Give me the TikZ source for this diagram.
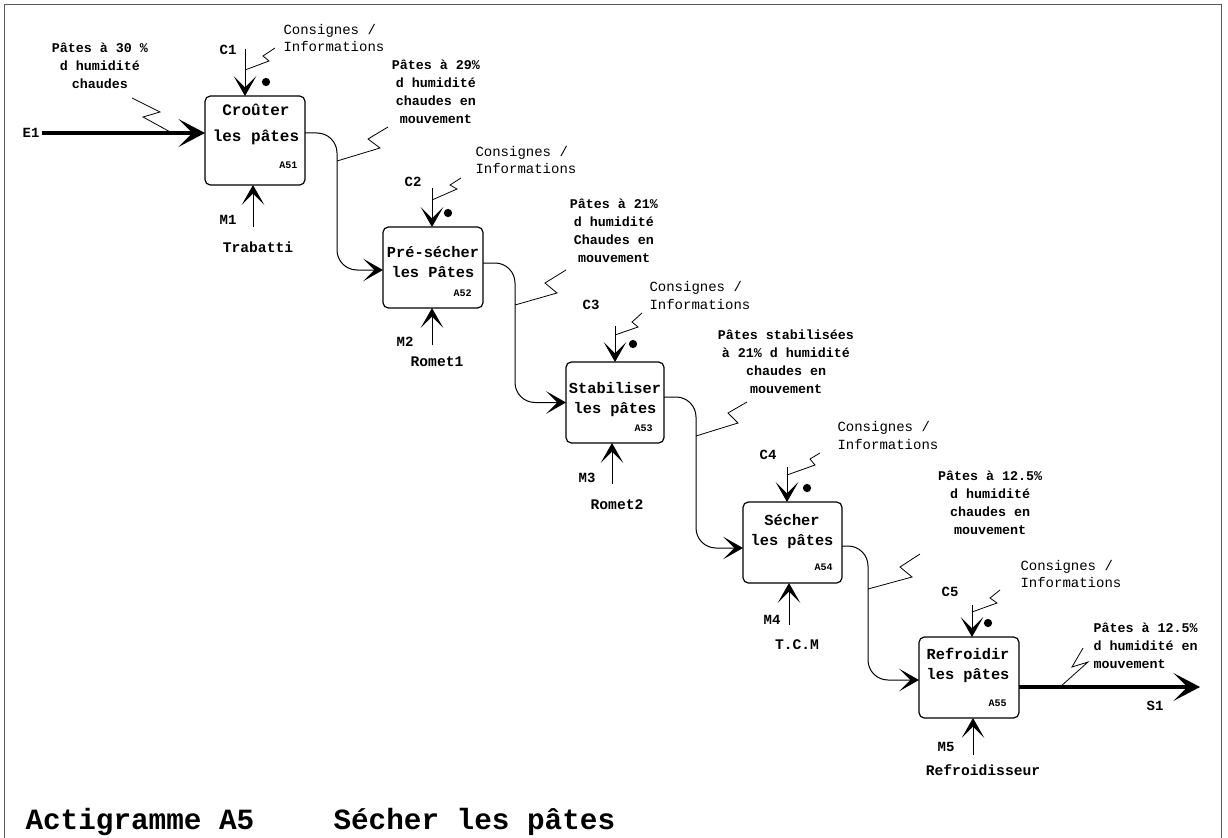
\documentclass[tikz,border=0pt]{standalone}
\usepackage{fontspec}
\setmainfont{Liberation Mono}
\usetikzlibrary{arrows.meta,calc}
\begin{document}
\begin{tikzpicture}[x=0.75pt,y=-0.75pt,
  line width=0.75pt,
  >={Stealth[length=15pt,width=17pt,inset=8.5pt]},
  thickarr/.style={line width=2.5pt,-{Stealth[length=20pt,width=21pt,inset=10.5pt]}},
  act/.style={draw,line width=0.9pt,rounded corners=4pt,inner sep=0pt,outer sep=0pt},
  acttxt/.style={align=center,inner sep=0pt,font=\fontsize{11.5}{14.5}\selectfont\bfseries},
  ref/.style={inner sep=0pt,anchor=east,font=\fontsize{7.5}{9}\selectfont\bfseries},
  lbl/.style={inner sep=0pt,font=\fontsize{10.5}{13}\selectfont\bfseries},
  cons/.style={inner sep=0pt,anchor=west,align=left,font=\fontsize{10.5}{13}\selectfont},
  flbl/.style={inner sep=0pt,align=center,font=\fontsize{10}{13.5}\selectfont\bfseries},
  mech/.style={inner sep=0pt,font=\fontsize{11}{13}\selectfont\bfseries},
  ttl/.style={inner sep=0pt,anchor=west,font=\fontsize{22}{26}\selectfont\bfseries},
  sq/.style={line width=0.6pt},
  flow/.style={->,rounded corners=15pt}
]
\useasboundingbox (0,0) rectangle (1228,838);
% frame
\draw[black!65,line width=1pt] (4.5,838) -- (4.5,4.5) -- (1221.5,4.5) -- (1221.5,838);

% activity boxes
\node[act,minimum width=75pt,minimum height=66.75pt] (A51) at (255,140.5) {};
\node[act,minimum width=75pt,minimum height=60.75pt] (A52) at (433,267.5) {};
\node[act,minimum width=73.5pt,minimum height=60.75pt] (A53) at (615,402.5) {};
\node[act,minimum width=74.25pt,minimum height=60.75pt] (A54) at (792.5,542.5) {};
\node[act,minimum width=75pt,minimum height=60.75pt] (A55) at (969,677.5) {};

\node[acttxt,font=\fontsize{12}{19}\selectfont\bfseries] (t51) at (256,124.5) {Croûter\\les pâtes};
\node[acttxt] (t52) at (433,262) {Pré-sécher\\les Pâtes};
\node[acttxt] (t53) at (615,399.5) {Stabiliser\\les pâtes};
\node[acttxt] (t54) at (792,531.5) {Sécher\\les pâtes};
\node[acttxt] (t55) at (968,665.5) {Refroidir\\les pâtes};

\node[ref] (r51) at (298,165) {A51};
\node[ref] (r52) at (472,293) {A52};
\node[ref] (r53) at (653,428) {A53};
\node[ref] (r54) at (833,567) {A54};
\node[ref] (r55) at (1007,703) {A55};

% input E1
\coordinate (e1) at (42,133);
\draw[thickarr] (e1) -- (e1 -| A51.west);
\node[lbl,anchor=east] (le1) at (40,133) {E1};
\node[flbl] (in0) at (100,66) {Pâtes à 30 \%\\d humidité\\chaudes};
\draw[sq] (132,98) -- (160,112) -- (143,117) -- (172,133);

% controls
\coordinate (c1) at (245,49);
\coordinate (c2) at (432,188);
\coordinate (c3) at (615,326);
\coordinate (c4) at (787,467);
\coordinate (c5) at (972,605);
\draw[->] (c1) -- (c1 |- A51.north);
\draw[->] (c2) -- (c2 |- A52.north);
\draw[->] (c3) -- (c3 |- A53.north);
\draw[->] (c4) -- (c4 |- A54.north);
\draw[->] (c5) -- (c5 |- A55.north);
\node[lbl] (lc1) at (228,50) {C1};
\node[lbl] (lc2) at (413,182) {C2};
\node[lbl] (lc3) at (591,305) {C3};
\node[lbl] (lc4) at (768,455) {C4};
\node[lbl] (lc5) at (950,592) {C5};
\fill (266,82) circle[radius=3.1pt];
\fill (448,213) circle[radius=3.1pt];
\fill (633,344) circle[radius=3.1pt];
\fill (807,488) circle[radius=3.1pt];
\fill (988,623) circle[radius=3.1pt];
\draw[sq] (245,70) -- (269,61) -- (263,56) -- (275,48);
\draw[sq] (432,200) -- (457,189) -- (450,185) -- (461,178);
\draw[sq] (615,335) -- (638,327) -- (632,322) -- (642,313);
\draw[sq] (787,475) -- (815,465) -- (810,459) -- (820,453);
\draw[sq] (972,612) -- (997,603) -- (990,598) -- (1000,590);
\node[cons] (k1) at (283,38) {Consignes /\\Informations};
\node[cons] (k2) at (475,160) {Consignes /\\Informations};
\node[cons] (k3) at (649,295.5) {Consignes /\\Informations};
\node[cons] (k4) at (837,435.5) {Consignes /\\Informations};
\node[cons] (k5) at (1020,574) {Consignes /\\Informations};

% mechanisms
\coordinate (m1) at (253,227);
\coordinate (m2) at (432,345);
\coordinate (m3) at (612,484);
\coordinate (m4) at (789,625);
\coordinate (m5) at (973,755);
\draw[->] (m1) -- (m1 |- A51.south);
\draw[->] (m2) -- (m2 |- A52.south);
\draw[->] (m3) -- (m3 |- A53.south);
\draw[->] (m4) -- (m4 |- A54.south);
\draw[->] (m5) -- (m5 |- A55.south);
\node[lbl] (lm1) at (228,220) {M1};
\node[lbl] (lm2) at (405,342) {M2};
\node[lbl] (lm3) at (587,478) {M3};
\node[lbl] (lm4) at (772,620) {M4};
\node[lbl] (lm5) at (946,747) {M5};
\node[mech] (n1) at (258,247) {Trabatti};
\node[mech] (n2) at (437,362) {Romet1};
\node[mech] (n3) at (617,505) {Romet2};
\node[mech] (n4) at (797,645) {T.C.M};
\node[mech] (n5) at (983,770) {Refroidisseur};

% flows between activities
\draw[flow] ($(A51.east)+(0,-7.5)$) -| ($(A52.west)+(-46,2.5)$) -- ($(A52.west)+(0,2.5)$);
\draw[flow] ($(A52.east)+(0,-4.5)$) -| ($(A53.west)+(-51,0)$) -- (A53.west);
\draw[flow] ($(A53.east)+(0,-5.5)$) -| ($(A54.west)+(-47,5.5)$) -- ($(A54.west)+(0,5.5)$);
\draw[flow] ($(A54.east)+(0,3.5)$) -| ($(A55.west)+(-51,2.5)$) -- ($(A55.west)+(0,2.5)$);

\node[flbl] (o1) at (436,91.5) {Pâtes à 29\%\\d humidité\\chaudes en\\mouvement};
\node[flbl] (o2) at (614,231) {Pâtes à 21\%\\d humidité\\Chaudes en\\mouvement};
\node[flbl] (o3) at (786,362) {Pâtes stabilisées\\à 21\% d humidité\\chaudes en\\mouvement};
\node[flbl] (o4) at (990,502.5) {Pâtes à 12.5\%\\d humidité\\chaudes en\\mouvement};
\node[flbl,align=left,anchor=west] (o5) at (1093,645.5) {Pâtes à 12.5\%\\d humidité en\\mouvement};
\draw[sq] (337,161) -- (380,148) -- (368,139) -- (388,127);
\draw[sq] (515,305) -- (557,293) -- (545,283) -- (566,270);
\draw[sq] (696,436) -- (738,423) -- (728,413) -- (747,402);
\draw[sq] (868,589) -- (912,577) -- (900,567) -- (920,554);
\draw[sq] (1060,687) -- (1088,662) -- (1072,667) -- (1083,648);

% output S1
\coordinate (s1) at (1200,687);
\draw[thickarr] (s1 -| A55.east) -- (s1);
\node[lbl] (ls1) at (1155,706) {S1};

% title
\node[ttl] (ttl1) at (25,822) {Actigramme A5};
\node[ttl] (ttl2) at (333,822) {Sécher les pâtes};
\end{tikzpicture}
\end{document}
